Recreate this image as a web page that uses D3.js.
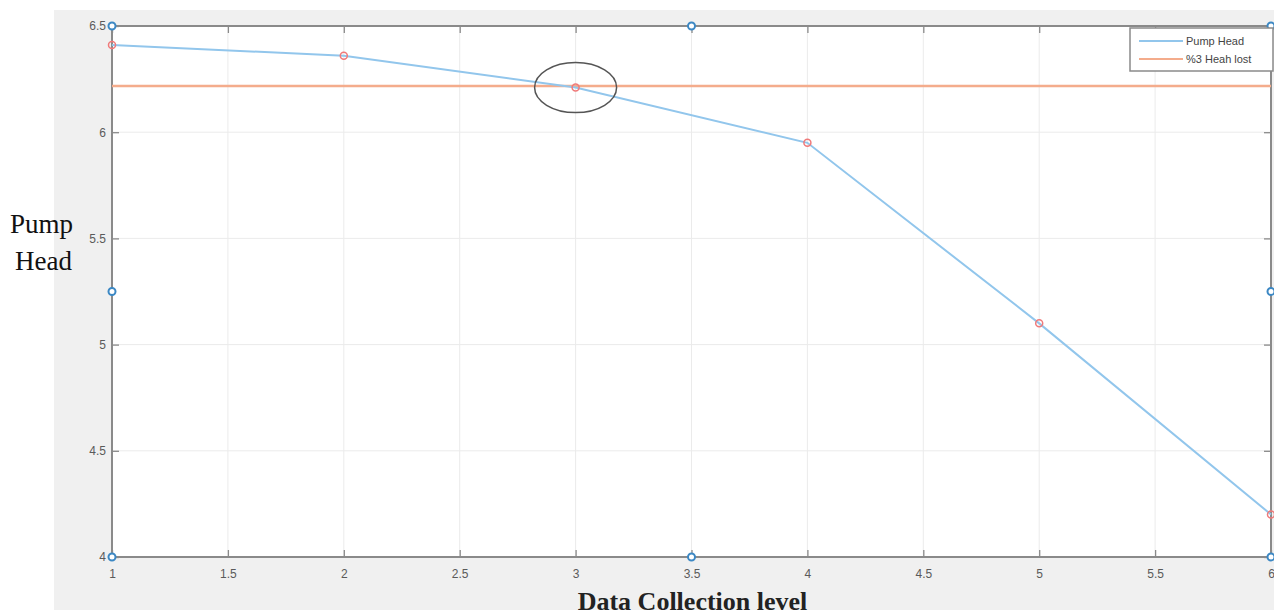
<!DOCTYPE html>
<html>
<head>
<meta charset="utf-8">
<script src="https://cdn.jsdelivr.net/npm/d3@7"></script>
<style>
  body { margin: 0; background: #fff; }
  svg { display: block; }
</style>
</head>
<body>
<div id="chart"></div>
<script>
// data
const levels = [1, 2, 3, 4, 5, 6];
const pumpHead = [6.41, 6.36, 6.21, 5.95, 5.10, 4.20];
const headLost = 6.217; // 3% head lost line
const xTicks = [1, 1.5, 2, 2.5, 3, 3.5, 4, 4.5, 5, 5.5, 6];
const yTicks = [4, 4.5, 5, 5.5, 6, 6.5];
// selection handles shown on the figure
const handleX = [1, 3.5, 6, 1, 6, 1, 3.5, 6];
const handleY = [6.5, 6.5, 6.5, 5.25, 5.25, 4, 4, 4];
const seriesNames = ['Pump Head', '%3 Heah lost'];

const W = 1274, H = 610;
const margin = { top: 26, right: 3, bottom: 53, left: 112 };
const width = W - margin.left - margin.right;
const height = H - margin.top - margin.bottom;

const svg = d3.select('#chart').append('svg')
  .attr('width', W).attr('height', H);

// gray figure background
svg.append('rect')
  .attr('x', 54).attr('y', 10)
  .attr('width', W - 54).attr('height', H - 10)
  .attr('fill', '#f0f0f0');

const g = svg.append('g')
  .attr('transform', 'translate(' + margin.left + ',' + margin.top + ')');

let x = d3.scaleLinear().domain([1, 6]).range([0, width]);
let y = d3.scaleLinear().domain([4, 6.5]).range([height, 0]);

g.append('rect').attr('width', width).attr('height', height).attr('fill', '#fff');

// grid
g.append('g').selectAll('line').data(xTicks).enter().append('line')
  .attr('x1', d => x(d)).attr('x2', d => x(d))
  .attr('y1', 0).attr('y2', height)
  .attr('stroke', '#ebebeb').attr('stroke-width', 1);
g.append('g').selectAll('line').data(yTicks).enter().append('line')
  .attr('y1', d => y(d)).attr('y2', d => y(d))
  .attr('x1', 0).attr('x2', width)
  .attr('stroke', '#ebebeb').attr('stroke-width', 1);

const axisColor = '#8a8a8a';
const styleAxis = (gr) => {
  gr.select('.domain').remove();
  gr.selectAll('.tick line').attr('stroke', axisColor).attr('stroke-width', 1.3);
  gr.selectAll('.tick text')
    .attr('fill', '#5a5a5a')
    .attr('font-family', 'Liberation Sans, Arial, sans-serif')
    .attr('font-size', 12);
};

// bottom / top / left / right axes with inward ticks
g.append('g')
  .attr('transform', `translate(0,${height})`)
  .call(d3.axisBottom(x).tickValues(xTicks).tickSize(-7).tickPadding(12).tickFormat(d3.format('')))
  .call(styleAxis);
g.append('g')
  .call(d3.axisTop(x).tickValues(xTicks).tickSize(-7).tickFormat(''))
  .call(styleAxis);
g.append('g')
  .call(d3.axisLeft(y).tickValues(yTicks).tickSize(-7).tickPadding(6).tickFormat(d3.format('')))
  .call(styleAxis);
g.append('g')
  .attr('transform', `translate(${width},0)`)
  .call(d3.axisRight(y).tickValues(yTicks).tickSize(-7).tickFormat(''))
  .call(styleAxis);

// box
g.append('rect').attr('width', width).attr('height', height)
  .attr('fill', 'none').attr('stroke', axisColor).attr('stroke-width', 2);

// 3% head lost line
g.append('line')
  .attr('x1', x(1)).attr('x2', x(6))
  .attr('y1', y(headLost)).attr('y2', y(headLost))
  .attr('stroke', '#f4ac8c').attr('stroke-width', 2.5);

// pump head line
const data = levels.map((d, i) => ({ level: d, head: pumpHead[i] }));
let line = d3.line().x(d => x(d.level)).y(d => y(d.head));
g.append('path').datum(data)
  .attr('fill', 'none')
  .attr('stroke', '#92c6ec')
  .attr('stroke-width', 2)
  .attr('d', line);

g.append('g').selectAll('circle').data(data).enter().append('circle')
  .attr('cx', d => x(d.level)).attr('cy', d => y(d.head))
  .attr('r', 3.5)
  .attr('fill', 'none')
  .attr('stroke', '#f07a7a')
  .attr('stroke-width', 1.5);

// ellipse annotation around crossing point
g.append('ellipse')
  .attr('cx', x(levels[2])).attr('cy', y(pumpHead[2]))
  .attr('rx', 41).attr('ry', 25)
  .attr('fill', 'none')
  .attr('stroke', '#555')
  .attr('stroke-width', 1.5);

// selection handles
g.append('g').selectAll('circle').data(handleX).enter().append('circle')
  .attr('cx', d => x(d)).attr('cy', (d, i) => y(handleY[i]))
  .attr('r', 3.5)
  .attr('fill', '#fff')
  .attr('stroke', '#3c88c4')
  .attr('stroke-width', 2);

// legend
const lg = svg.append('g').attr('transform', 'translate(1130,28)');
lg.append('rect').attr('width', 143).attr('height', 43)
  .attr('fill', '#fff').attr('stroke', '#8a8a8a').attr('stroke-width', 1.5);
const legColors = ['#92c6ec', '#f4ac8c'];
seriesNames.forEach((name, i) => {
  lg.append('line')
    .attr('x1', 9).attr('x2', 53)
    .attr('y1', 13 + i * 18).attr('y2', 13 + i * 18)
    .attr('stroke', legColors[i]).attr('stroke-width', 2);
  lg.append('text')
    .attr('x', 56).attr('y', 17 + i * 18)
    .attr('font-family', 'Liberation Sans, Arial, sans-serif')
    .attr('font-size', 11)
    .attr('fill', '#444')
    .text(name);
});

// axis titles
const yTitle = svg.append('text')
  .attr('font-family', 'Liberation Serif, Times New Roman, serif')
  .attr('font-size', 27)
  .attr('fill', '#111')
  .attr('text-anchor', 'end');
yTitle.append('tspan').attr('x', 73).attr('y', 233).text('Pump');
yTitle.append('tspan').attr('x', 72).attr('y', 270).text('Head');

svg.append('text')
  .attr('x', x(3.5) + margin.left + 1).attr('y', 610)
  .attr('text-anchor', 'middle')
  .attr('font-family', 'Liberation Serif, Times New Roman, serif')
  .attr('font-size', 26)
  .attr('font-weight', 'bold')
  .attr('fill', '#222')
  .text('Data Collection level');
</script>
</body>
</html>
